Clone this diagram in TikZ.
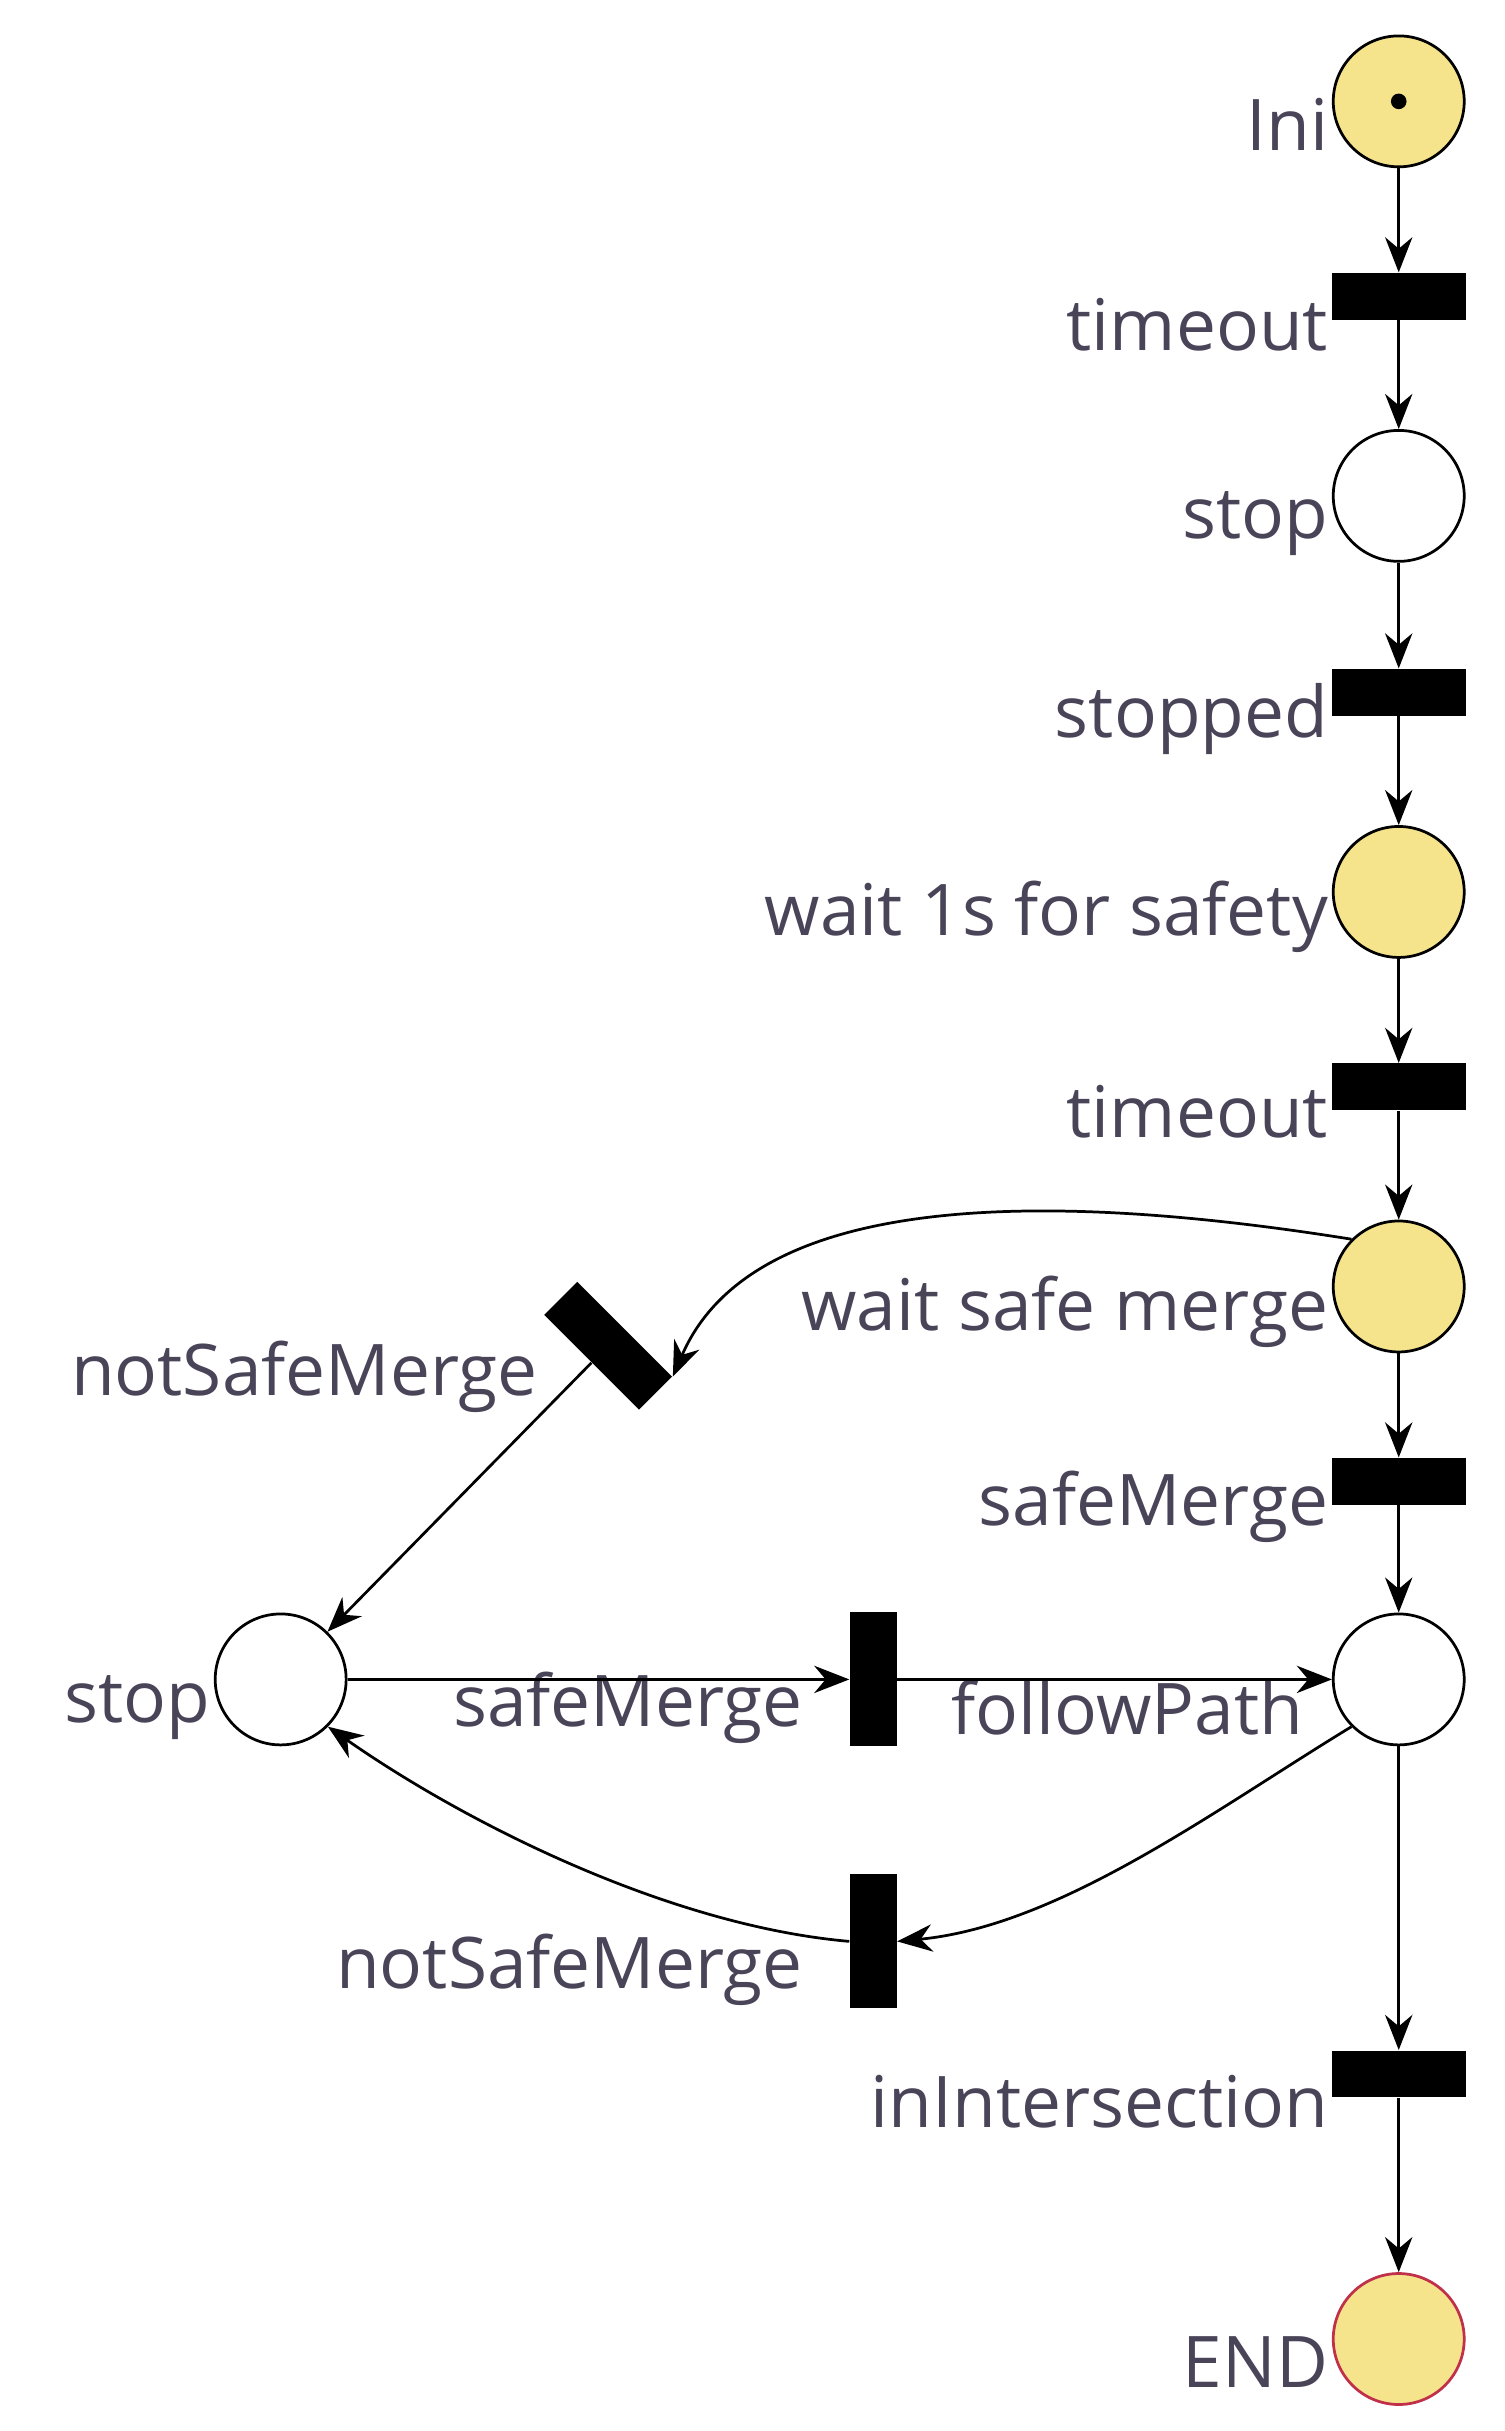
\documentclass[tikz,border=0pt]{standalone}
\usepackage{fontspec}
\setmainfont{Open Sans}
\usetikzlibrary{arrows.meta}
\definecolor{pl}{HTML}{F5E48C}
\definecolor{tx}{HTML}{4A4458}
\definecolor{endc}{HTML}{C0304A}
\begin{document}
\begin{tikzpicture}[x=0.02cm,y=-0.02cm,
 place/.style={circle,draw=black,line width=1pt,minimum size=1.68cm,inner sep=0pt},
 yel/.style={place,fill=pl},
 wht/.style={place,fill=white},
 hbar/.style={fill=black,minimum width=1.72cm,minimum height=0.6cm,inner sep=0pt},
 vbar/.style={fill=black,minimum width=0.6cm,minimum height=1.72cm,inner sep=0pt},
 lab/.style={text=tx,font=\fontsize{26}{30}\selectfont,inner sep=0pt},
 arr/.style={-{Stealth[length=0.45cm,width=0.35cm]},line width=1pt}]
\useasboundingbox (0,0) rectangle (965,1559);
\node[yel] (ini) at (897,65) {};
\fill (897,65) circle (5);
\node[hbar] (t1) at (897,190) {};
\node[wht] (stop) at (897,318) {};
\node[hbar] (t2) at (897,444) {};
\node[yel] (w1) at (897,572) {};
\node[hbar] (t3) at (897,697) {};
\node[yel] (wsm) at (897,825) {};
\node[hbar] (t4) at (897,950) {};
\node[wht] (fp) at (897,1077) {};
\node[hbar] (t5) at (897,1330) {};
\node[yel,draw=endc] (end) at (897,1500) {};
\node[wht] (lstop) at (180,1077) {};
\node[hbar,rotate=-45] (nsm) at (390,863) {};
\node[vbar] (sm) at (560,1077) {};
\node[vbar] (nsm2) at (560,1245) {};
\node[lab,anchor=east] (l1) at (852,80) {Ini};
\node[lab,anchor=east] (l2) at (852,208) {timeout};
\node[lab,anchor=east] (l3) at (852,336) {stop};
\node[lab,anchor=east] (l4) at (852,461) {stopped};
\node[lab,anchor=east] (l5) at (852,588) {wait 1s for safety};
\node[lab,anchor=east] (l6) at (852,713) {timeout};
\node[lab,anchor=east] (l7) at (852,841) {wait safe merge};
\node[lab,anchor=east] (l8) at (852,966) {safeMerge};
\node[lab,anchor=east] (l9) at (345,883) {notSafeMerge};
\node[lab,anchor=east] (l10) at (135,1095) {stop};
\node[lab,anchor=east] (l11) at (515,1095) {safeMerge};
\node[lab,anchor=west] (l12) at (610,1095) {followPath};
\node[lab,anchor=east] (l13) at (515,1263) {notSafeMerge};
\node[lab,anchor=east] (l14) at (852,1348) {inIntersection};
\node[lab,anchor=east] (l15) at (852,1515) {END};
\draw[arr] (ini) -- (t1);
\draw[arr] (t1) -- (stop);
\draw[arr] (stop) -- (t2);
\draw[arr] (t2) -- (w1);
\draw[arr] (w1) -- (t3);
\draw[arr] (t3) -- (wsm);
\draw[arr] (wsm) -- (t4);
\draw[arr] (t4) -- (fp);
\draw[arr] (fp) -- (t5);
\draw[arr] (t5) -- (end);
\draw[arr] (wsm.north west) .. controls (650,760) and (480,770) .. (nsm.north east);
\draw[arr] (nsm) -- (lstop);
\draw[arr] (lstop) -- (sm);
\draw[arr] (sm) -- (fp);
\draw[arr] (fp.south west) .. controls (780,1160) and (680,1235) .. (nsm2.east);
\draw[arr] (nsm2.west) .. controls (430,1235) and (300,1170) .. (lstop.south east);
\end{tikzpicture}
\end{document}
